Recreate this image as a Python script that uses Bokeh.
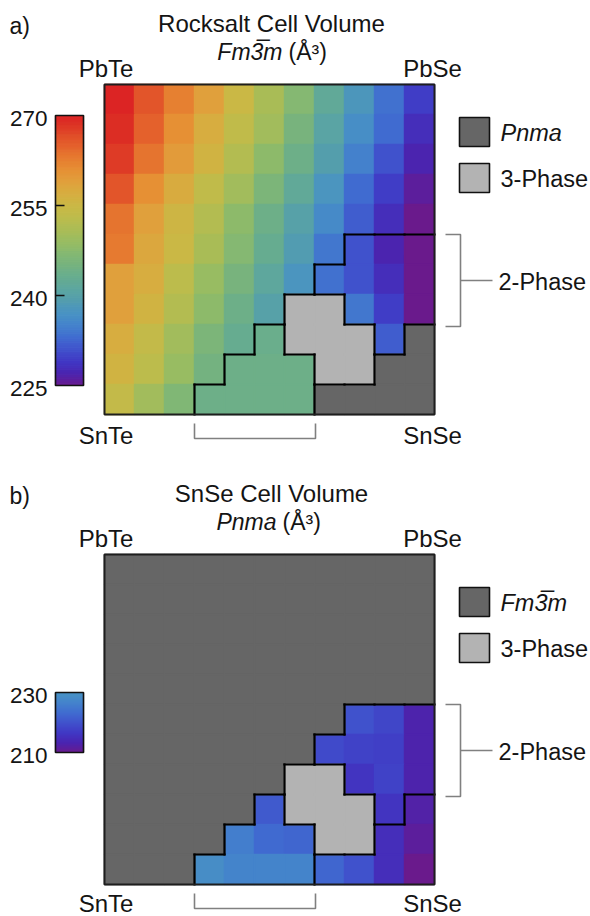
import numpy as np
from bokeh.plotting import figure
from bokeh.models import Range1d, LinearColorMapper, ColumnDataSource
from bokeh.transform import transform
from bokeh.layouts import column
from bokeh.core.properties import value
from bokeh.embed import file_html
from bokeh.resources import INLINE

# ---------------- data ----------------
# Phase map, rows from the Pb-rich edge (top) to the Sn-rich edge (bottom),
# columns from Te (left) to Se (right).
# S = rocksalt single phase, A/B = two-phase regions, T = three-phase, P = Pnma
PHASE_ROWS = [
    "SSSSSSSSSSS",
    "SSSSSSSSSSS",
    "SSSSSSSSSSS",
    "SSSSSSSSSSS",
    "SSSSSSSSSSS",
    "SSSSSSSSAAA",
    "SSSSSSSAAAA",
    "SSSSSSTTAAA",
    "SSSSSBTTTAP",
    "SSSSBBBTTPP",
    "SSSBBBBPPPP",
]

N = None
# Rocksalt (Fm-3m) cell volume, A^3
RS_R0 = [270, 266, 262.5, 259, 255, 251, 247, 242, 238, 233.5, 229.5]
RS_R1 = [269, 265, 261, 257, 253.5, 250, 245.5, 240.5, 236.5, 233, 228]
RS_R2 = [268, 263.5, 259.5, 256, 252, 248, 244, 239.5, 235, 231, 227]
RS_R3 = [266, 261, 257.5, 253.5, 250, 246, 242, 237.5, 233, 229.5, 226]
RS_R4 = [263.5, 259, 255.5, 252, 248, 244, 240, 236, 232, 228, 225]
RS_R5 = [263, 258, 255, 251, 247, 243, 239, 234, 231, 227, 225]
RS_R6 = [259, 257, 253, 249, 245.5, 241.5, 237.5, 233.5, 231, 228, 225]
RS_R7 = [259, 256, 252, 248, 244, 240, N, N, 234, 229.5, 225]
RS_R8 = [257, 254, 250, 246, 243, 243.5, N, N, N, 232, N]
RS_R9 = [256, 253, 249, 245, 244, 244, 244, N, N, N, N]
RS_R10 = [254, 250, 246.5, 244, 244, 244, 244, N, N, N, N]

# SnSe (Pnma) cell volume, A^3
SN_R0 = [N, N, N, N, N, N, N, N, N, N, N]
SN_R1 = [N, N, N, N, N, N, N, N, N, N, N]
SN_R2 = [N, N, N, N, N, N, N, N, N, N, N]
SN_R3 = [N, N, N, N, N, N, N, N, N, N, N]
SN_R4 = [N, N, N, N, N, N, N, N, N, N, N]
SN_R5 = [N, N, N, N, N, N, N, N, 220, 218.5, 213]
SN_R6 = [N, N, N, N, N, N, N, 219, 218, 217.5, 213]
SN_R7 = [N, N, N, N, N, N, N, N, 216, 218, 213]
SN_R8 = [N, N, N, N, N, 221, N, N, N, 216, 212.5]
SN_R9 = [N, N, N, N, 226, 223, 222.5, N, N, 215, 211.5]
SN_R10 = [N, N, N, 229, 227, 227, 227, 222.5, 220, 215, 210]

RS_ROWS = [RS_R0, RS_R1, RS_R2, RS_R3, RS_R4, RS_R5, RS_R6, RS_R7, RS_R8, RS_R9, RS_R10]
SN_ROWS = [SN_R0, SN_R1, SN_R2, SN_R3, SN_R4, SN_R5, SN_R6, SN_R7, SN_R8, SN_R9, SN_R10]

RS_TICKS = [270, 255, 240, 225]
SN_TICKS = [230, 210]
RS_RANGE = (225, 270)
SN_RANGE = (210, 230)

CORNERS = ["PbTe", "PbSe", "SnTe", "SnSe"]

# colour stops of the volume colour scale (rocksalt volume -> colour)
STOP_V = [225, 227, 229, 231, 233, 235, 237, 239, 241, 243, 245, 247, 249,
          251, 253, 255, 257, 259, 261, 263, 265, 267, 269, 270]
STOP_C = ["#6a1a8c", "#4a24b0", "#4038c4", "#4052cc", "#406cd0", "#4482cc",
          "#4892c4", "#529cb0", "#5ca6a0", "#66ac90", "#74b280", "#84b872",
          "#98bc62", "#aabc56", "#bcbc4c", "#cab845", "#d6ae40", "#e0a03c",
          "#e69034", "#e67c30", "#e4622c", "#e04a28", "#dc2e24", "#dc2424"]

DARK = "#666666"
LIGHT = "#b3b3b3"
INK = "#141414"
BRACKET = "#808080"
FONT = "Liberation Sans"


def hex2rgb(h):
    h = h.lstrip("#")
    return np.array([int(h[i:i + 2], 16) for i in (0, 2, 4)], dtype=float)


STOP_RGB = np.array([hex2rgb(c) for c in STOP_C])


def cmap(v):
    r = np.interp(v, STOP_V, STOP_RGB[:, 0])
    g = np.interp(v, STOP_V, STOP_RGB[:, 1])
    b = np.interp(v, STOP_V, STOP_RGB[:, 2])
    return "#%02x%02x%02x" % (int(round(r)), int(round(g)), int(round(b)))


PAL_A = [cmap(v) for v in np.linspace(225, 270, 256)]
PAL_B = [cmap(v) for v in np.linspace(225, 237, 256)]
MAP_A = LinearColorMapper(palette=PAL_A, low=RS_RANGE[0], high=RS_RANGE[1])
MAP_B = LinearColorMapper(palette=PAL_B, low=SN_RANGE[0], high=SN_RANGE[1])

CELL = 30.0
GX0 = 104.0          # page x of the grid's left edge
NG = 11


def make_panel(letter, title, sub_it, sub_rest, sub_split, vals_rows, colored,
               gray_code, gray_label, mapper, vrange, ticks, cb_top, cb_bot,
               mid_ticks, fig_top, grid_bottom, bot_off):
    H = 458

    def X(px):
        return (px - GX0) / CELL

    def Y(py):
        return (grid_bottom - py) / CELL

    p = figure(width=590, height=H, output_backend="svg", toolbar_location=None,
               x_range=Range1d(X(0), X(590)),
               y_range=Range1d(Y(fig_top + H), Y(fig_top)),
               x_axis_location=None, y_axis_location=None,
               min_border=0, outline_line_color=None)
    p.grid.visible = False
    p.background_fill_color = "white"
    p.border_fill_color = "white"

    gtop = grid_bottom - NG * CELL

    # ---- cells ----
    cx, cy, cv = [], [], []
    dx, dy, lx, ly = [], [], [], []
    for r in range(NG):
        for c in range(NG):
            code = PHASE_ROWS[r][c]
            xc, yc = c + 0.5, (NG - 1 - r) + 0.5
            if code in colored and vals_rows[r][c] is not None:
                cx.append(xc); cy.append(yc); cv.append(vals_rows[r][c])
            elif code == "T":
                lx.append(xc); ly.append(yc)
            elif code in gray_code:
                dx.append(xc); dy.append(yc)
    src = ColumnDataSource(dict(x=cx, y=cy, v=cv))
    p.rect(x="x", y="y", width=1, height=1, source=src,
           fill_color=transform("v", mapper), line_color=transform("v", mapper),
           line_width=1.4)
    p.rect(x=dx, y=dy, width=1, height=1, fill_color=DARK, line_color=DARK, line_width=1.6)
    p.rect(x=lx, y=ly, width=1, height=1, fill_color=LIGHT, line_color=LIGHT, line_width=1.6)

    # ---- region boundaries ----
    x0s, y0s, x1s, y1s = [], [], [], []
    for r in range(NG):
        for c in range(NG):
            code = PHASE_ROWS[r][c]
            ytop = NG - r
            if c + 1 < NG and PHASE_ROWS[r][c + 1] != code:
                x0s.append(c + 1); x1s.append(c + 1); y0s.append(ytop - 1); y1s.append(ytop)
            if r + 1 < NG and PHASE_ROWS[r + 1][c] != code:
                x0s.append(c); x1s.append(c + 1); y0s.append(ytop - 1); y1s.append(ytop - 1)
    p.segment(x0=x0s, y0=y0s, x1=x1s, y1=y1s, line_color="black", line_width=2.2,
              line_cap="square")
    p.rect(x=NG / 2, y=NG / 2, width=NG, height=NG, fill_color=None,
           line_color="#1e1e1e", line_width=2)

    def txt(px, py, s, size="24px", align="left", style="normal"):
        p.text(x=[X(px)], y=[Y(py)], text=[s], text_font=value(FONT),
               text_font_size=size, text_align=align, text_baseline="middle",
               text_font_style=style, text_color=INK)

    # ---- titles and corner labels ----
    txt(9, gtop - 59, letter, size="23px")
    txt(271, gtop - 61.5, title, size="24px", align="center")
    txt(sub_split, gtop - 33, sub_it, size="23px", style="italic", align="right")
    txt(sub_split + 6, gtop - 33, sub_rest, size="23px")
    txt(GX0 + 1.5, gtop - 16, CORNERS[0], align="center")
    txt(GX0 + NG * CELL - 2, gtop - 16, CORNERS[1], align="center")
    txt(GX0 + 1.5, grid_bottom + bot_off, CORNERS[2], align="center")
    txt(GX0 + NG * CELL - 2, grid_bottom + bot_off, CORNERS[3], align="center")

    # ---- legend on the right ----
    p.rect(x=[X(474), X(474)], y=[Y(gtop + 47.5), Y(gtop + 93.5)], width=1, height=29 / CELL,
           fill_color=[DARK, LIGHT], line_color="#111111", line_width=1.6)
    txt(500, gtop + 48, gray_label, size="23.5px", style="italic")
    txt(500, gtop + 94, "3-Phase", size="23.5px")
    # right bracket over the upper two-phase rows
    byt, byb = gtop + 150, gtop + 242
    p.line(x=[X(445), X(460), X(460), X(445)], y=[Y(byt), Y(byt), Y(byb), Y(byb)],
           line_color=BRACKET, line_width=1.6)
    p.line(x=[X(460), X(492)], y=[Y((byt + byb) / 2)] * 2, line_color=BRACKET, line_width=1.6)
    txt(498, (byt + byb) / 2 + 1, "2-Phase", size="23.5px")
    # bottom bracket under the lower two-phase columns
    p.line(x=[X(194), X(194), X(315), X(315)],
           y=[Y(grid_bottom + 9), Y(grid_bottom + 24), Y(grid_bottom + 24), Y(grid_bottom + 9)],
           line_color=BRACKET, line_width=1.6)

    # ---- colour bar ----
    lo, hi = vrange
    yb, yt = Y(cb_bot), Y(cb_top)

    def vy(v):
        return yb + (v - lo) / (hi - lo) * (yt - yb)

    edges = np.linspace(lo, hi, 121)
    mids = (edges[:-1] + edges[1:]) / 2
    cbs = ColumnDataSource(dict(b=[vy(e) for e in edges[:-1]], t=[vy(e) for e in edges[1:]],
                                v=list(mids)))
    p.quad(left=X(55), right=X(83), bottom="b", top="t", source=cbs,
           fill_color=transform("v", mapper), line_color=transform("v", mapper),
           line_width=1.2)
    p.quad(left=[X(55)], right=[X(83)], bottom=[yb], top=[yt], fill_color=None,
           line_color="#111111", line_width=1.6)
    for tv in ticks:
        p.text(x=[X(47)], y=[vy(tv) - 2.5 / CELL], text=[str(tv)], text_font=value(FONT),
               text_font_size="22.5px", text_align="right", text_baseline="middle",
               text_color=INK)
    for tv in mid_ticks:
        p.segment(x0=[X(55)], x1=[X(64)], y0=[vy(tv)], y1=[vy(tv)], line_color="#111111",
                  line_width=1.6)
    return p


pa = make_panel("a)", "Rocksalt Cell Volume", "Fm3\u0305m", "(\u00c5\u00b3)", 282,
                RS_ROWS, "SAB", "P", "Pnma", MAP_A, RS_RANGE, RS_TICKS,
                115, 385, [255, 240], 0, 414, 21)
pb = make_panel("b)", "SnSe Cell Volume", "Pnma", "(\u00c5\u00b3)", 276,
                SN_ROWS, "PAB", "S", "Fm3\u0305m", MAP_B, SN_RANGE, SN_TICKS,
                692, 752, [], 458, 884, 19)

layout = column(pa, pb, spacing=0)
open("out.html", "w").write(file_html(layout, INLINE))
